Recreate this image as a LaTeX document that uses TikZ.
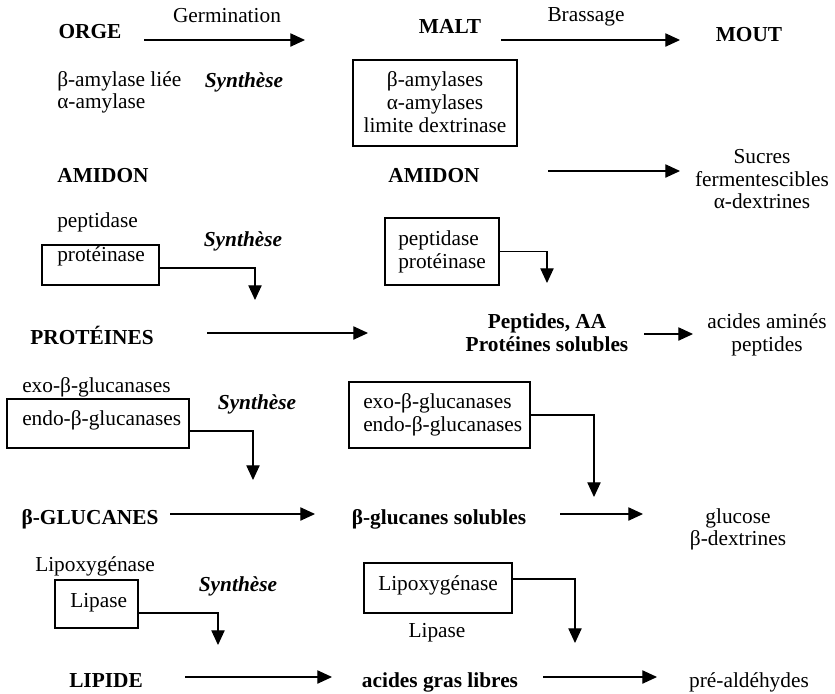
\documentclass[tikz,border=0pt]{standalone}
\usepackage{fontspec}
\setmainfont{Liberation Serif}
\usetikzlibrary{arrows.meta}
\tikzset{
  stage/.style={font=\bfseries, anchor=base, inner sep=0pt},
  enz/.style={anchor=base west, inner sep=0pt},
  prod/.style={anchor=base, inner sep=0pt},
  synth/.style={font=\bfseries\itshape, anchor=base, inner sep=0pt},
  ebox/.style={draw, line width=0.8pt, inner sep=0pt},
  flow/.style={line width=0.8pt, -{Triangle[length=11pt,width=10pt]}},
}
\begin{document}
\fontsize{16}{18}\selectfont
\begin{tikzpicture}[x=0.75pt, y=-0.75pt]
    \useasboundingbox (0,0) rectangle (835,693);
    % stages
    \node[stage] (orge) at (90,38) {ORGE};
    \node[stage] (malt) at (450,33) {MALT};
    \node[stage] (mout) at (749,41) {MOUT};
    \node[prod] (germ) at (227,22) {Germination};
    \node[prod] (bras) at (586,21) {Brassage};

    % amidon
    \node[enz] (bal) at (57,86) {β-amylase liée};
    \node[enz] (aal) at (57,108) {α-amylase};
    \node[ebox, minimum width=123pt, minimum height=64.5pt] (bm1) at (435,103) {};
    \node[prod] (bm1a) at (435,86) {β-amylases};
    \node[prod] (bm1b) at (435,109) {α-amylases};
    \node[prod] (bm1c) at (435,132) {limite dextrinase};
    \node[stage] (amil) at (103,182) {AMIDON};
    \node[stage] (amim) at (434,182) {AMIDON};
    \node[prod] (suc1) at (762,163) {Sucres};
    \node[prod] (suc2) at (762,186) {fermentescibles};
    \node[prod] (suc3) at (762,208) {α-dextrines};

    % proteines
    \node[enz] (pepl) at (57,227) {peptidase};
    \node[ebox, minimum width=87.75pt, minimum height=30pt] (bl2) at (100.5,265) {};
    \node[enz] (prol) at (57,261) {protéinase};
    \node[ebox, minimum width=85.5pt, minimum height=50.25pt] (bm2) at (442,251.5) {};
    \node[enz] (pepm) at (398,245) {peptidase};
    \node[enz] (prom) at (398,268) {protéinase};
    \node[stage] (prot) at (92,344) {PROTÉINES};
    \node[stage] (pep1) at (547,328) {Peptides, AA};
    \node[stage] (pep2) at (547,351) {Protéines solubles};
    \node[prod] (aa1) at (767,328) {acides aminés};
    \node[prod] (aa2) at (767,351) {peptides};

    % glucanes
    \node[enz] (exol) at (22,392) {exo-β-glucanases};
    \node[ebox, minimum width=136.5pt, minimum height=36.75pt] (bl3) at (98,423.5) {};
    \node[enz] (endl) at (22,425) {endo-β-glucanases};
    \node[ebox, minimum width=135.75pt, minimum height=49.5pt] (bm3) at (439.5,415) {};
    \node[enz] (exom) at (363,408) {exo-β-glucanases};
    \node[enz] (endm) at (363,431) {endo-β-glucanases};
    \node[stage] (glul) at (90,524) {β-GLUCANES};
    \node[stage] (glum) at (439,524) {β-glucanes solubles};
    \node[prod] (glc1) at (738,523) {glucose};
    \node[prod] (glc2) at (738,545) {β-dextrines};

    % lipides
    \node[enz] (loxl) at (35,571) {Lipoxygénase};
    \node[ebox, minimum width=62.25pt, minimum height=36pt] (bl4) at (96.5,604) {};
    \node[enz] (lipl) at (70,607) {Lipase};
    \node[ebox, minimum width=111pt, minimum height=37.5pt] (bm4) at (438,588) {};
    \node[enz] (loxm) at (378,590) {Lipoxygénase};
    \node[prod] (lipm) at (437,637) {Lipase};
    \node[stage] (lipi) at (106,687) {LIPIDE};
    \node[stage] (agl) at (440,687) {acides gras libres};
    \node[prod] (ald) at (749,687) {pré-aldéhydes};

    \foreach \i/\x/\y in {1/244/87, 2/243/246, 3/257/409, 4/238/591} {
      \node[synth] (syn\i) at (\x,\y) {Synthèse};
    }

    % horizontal arrows
    \foreach \n/\xa/\xb/\y in {ger/144/305/40, bra/501/680/40, ami/548/680/171,
        prl/207/368/333, prm/644/693/334, gll/170/315/514, glm/560/643/514,
        lil/185/332/677, lim/543/657/677} {
      \coordinate (\n a) at (\xa,\y);
      \coordinate (\n b) at (\xb,\y);
      \draw[flow] (\n a) -- (\n b);
    }

    % enzyme boxes down to the products
    \coordinate (t2l) at (255,300);
    \coordinate (t2m) at (547,283);
    \coordinate (t3l) at (253,480);
    \coordinate (t3m) at (594,497);
    \coordinate (t4l) at (218,645);
    \coordinate (t4m) at (575,643);
    \draw[flow] ([yshift=-2.25pt]bl2.east) -| (t2l);
    \draw[flow] (bm2.east) -| (t2m);
    \draw[flow] ([yshift=-5.6pt]bl3.east) -| (t3l);
    \draw[flow] (bm3.east) -| (t3m);
    \draw[flow] ([yshift=-6.75pt]bl4.east) -| (t4l);
    \draw[flow] ([yshift=6.75pt]bm4.east) -| (t4m);
\end{tikzpicture}
\end{document}
